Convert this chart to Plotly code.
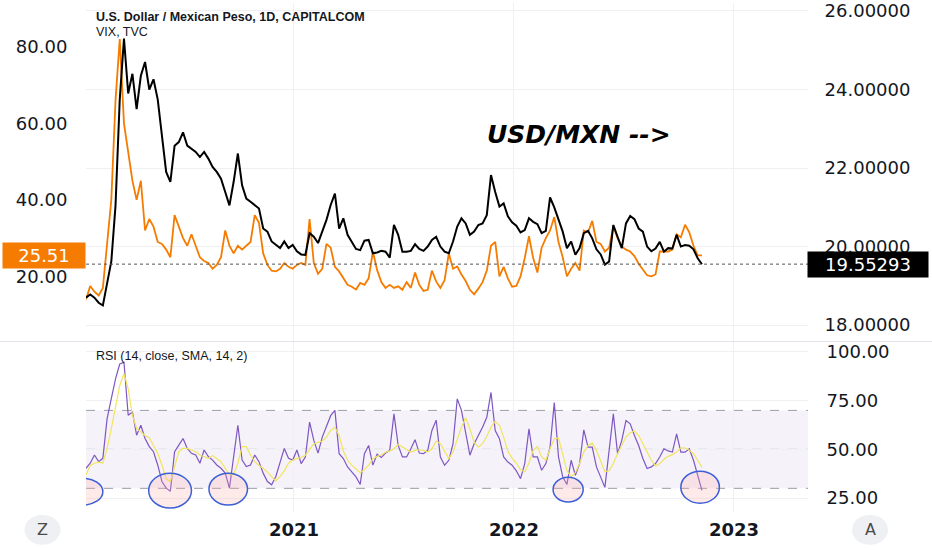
import pandas as pd
import plotly.graph_objects as go

# ---------------- data (weekly readings from the chart) ----------------
dates = pd.date_range("2020-01-22", periods=147, freq="7D")

usd_mxn = [
    18.70, 18.78, 18.70, 18.57, 18.50, 19.03, 19.62, 21.05, 23.75, 25.30,
    23.90, 24.40, 23.50, 24.35, 24.70, 24.00, 24.26, 23.75, 22.74, 21.90,
    21.65, 22.57, 22.66, 22.91, 22.57, 22.49, 22.41, 22.28, 22.41, 22.24,
    22.03, 21.90, 21.73, 21.39, 21.05, 21.65, 22.37, 21.56, 21.22, 21.14,
    21.05, 20.97, 20.46, 20.38, 20.13, 20.04, 19.96, 20.13, 19.96, 20.04,
    19.88, 19.80, 19.79, 20.34, 20.25, 20.09, 20.38, 20.68, 21.06, 21.35,
    20.46, 20.72, 20.30, 20.13, 19.94, 19.91, 20.15, 20.17, 19.83, 19.85,
    19.89, 19.87, 19.72, 20.55, 20.30, 19.87, 19.87, 19.89, 20.06, 19.94,
    19.89, 20.00, 20.17, 20.25, 20.00, 19.87, 19.83, 20.13, 20.51, 20.72,
    20.59, 20.30, 20.38, 20.55, 20.59, 20.80, 21.82, 21.39, 21.02, 21.10,
    20.77, 20.62, 20.53, 20.36, 20.42, 20.72, 20.63, 20.57, 20.34, 20.40,
    21.25, 21.00, 20.70, 20.38, 19.96, 20.13, 19.79, 19.96, 20.34, 20.40,
    20.21, 19.93, 19.80, 19.54, 19.62, 20.55, 20.25, 19.96, 20.59, 20.78,
    20.70, 20.46, 20.38, 20.00, 19.88, 19.95, 20.12, 19.87, 19.96, 19.95,
    20.30, 20.00, 20.04, 20.02, 19.93, 19.70, 19.55,
]

vix = [
    14.0, 17.5, 16.0, 15.0, 17.0, 29.0, 40.0, 66.0, 82.0, 60.0,
    52.0, 45.0, 40.0, 45.0, 32.0, 35.0, 33.0, 29.0, 28.5, 27.0,
    25.0, 36.0, 33.0, 30.0, 28.0, 31.0, 28.0, 25.0, 24.0, 23.5,
    22.0, 23.0, 25.0, 32.0, 28.0, 26.0, 28.0, 27.0, 28.0, 29.0,
    36.0, 34.0, 26.0, 23.0, 21.5, 21.3, 22.0, 23.5, 22.5, 22.0,
    23.0, 23.5, 23.0, 35.0, 23.5, 20.7, 22.0, 28.5, 27.5, 22.5,
    21.3, 19.5, 17.8, 17.3, 16.6, 18.3, 17.8, 19.5, 26.5, 21.7,
    18.5, 17.0, 17.8, 17.0, 17.4, 16.5, 18.5, 17.0, 21.0, 17.8,
    16.2, 16.5, 21.5, 18.7, 17.0, 19.0, 26.0, 22.0, 22.6, 20.5,
    18.8, 16.5, 15.3, 16.8, 18.5, 21.5, 28.0, 29.0, 20.0, 22.5,
    19.5, 17.3, 17.5, 20.0, 24.8, 30.5, 24.8, 21.0, 27.5, 30.0,
    32.0, 35.5, 29.0, 25.0, 20.0, 22.0, 23.5, 21.5, 32.0, 31.5,
    34.5, 29.0, 28.5, 26.5, 27.5, 33.0, 30.0, 27.8, 27.0, 26.5,
    25.3, 23.3, 21.8, 20.3, 20.0, 20.5, 26.5, 26.5, 26.5, 27.0,
    31.0, 30.2, 33.5, 31.5, 28.0, 25.5, 25.51,
]

rsi = [
    40.3, 42.9, 47.1, 43.7, 45.4, 65.8, 76.0, 86.2, 93.8, 94.7,
    67.5, 69.2, 57.3, 62.4, 55.6, 51.4, 48.8, 42.0, 33.5, 30.1,
    28.5, 48.8, 52.2, 55.6, 50.5, 48.0, 47.1, 42.9, 49.7, 46.3,
    44.5, 42.0, 40.3, 37.8, 30.1, 45.4, 62.4, 44.5, 41.2, 42.0,
    47.1, 43.7, 37.8, 33.5, 31.8, 36.1, 43.7, 50.5, 45.4, 44.5,
    49.7, 42.7, 46.1, 64.0, 54.6, 48.1, 56.3, 61.4, 67.3, 70.0,
    47.8, 45.3, 41.0, 38.5, 35.9, 32.0, 47.8, 52.0, 41.9, 47.5,
    45.8, 48.1, 49.5, 68.2, 52.0, 46.1, 46.1, 50.3, 55.0, 48.1,
    47.8, 49.5, 59.7, 65.0, 46.1, 41.9, 44.4, 52.9, 75.9, 70.0,
    58.0, 47.0, 52.9, 57.0, 61.4, 66.5, 79.2, 59.7, 55.5, 46.1,
    43.5, 41.9, 39.0, 35.0, 42.7, 60.5, 46.1, 46.1, 39.3, 42.7,
    51.2, 74.0, 46.1, 35.9, 32.0, 44.4, 36.7, 42.7, 60.0, 51.2,
    51.2, 41.0, 35.9, 30.5, 49.5, 68.2, 47.8, 54.6, 64.8, 63.1,
    57.1, 52.0, 45.3, 40.2, 41.0, 42.7, 46.1, 50.3, 49.2, 48.6,
    58.0, 48.6, 48.6, 50.3, 44.4, 36.5, 29.0,
]

rsi_sma = [
    36.9, 41.7, 42.9, 43.4, 42.9, 50.5, 60.7, 70.9, 82.8, 88.8,
    81.1, 67.5, 60.7, 59.0, 57.0, 56.0, 52.2, 48.0, 42.0, 34.9,
    33.5, 41.2, 48.8, 50.5, 50.5, 49.7, 48.8, 47.1, 46.3, 45.4,
    46.8, 45.4, 43.7, 40.3, 36.9, 37.2, 42.9, 51.4, 51.4, 47.1,
    43.7, 41.7, 40.3, 38.3, 36.1, 33.8, 36.1, 39.0, 42.9, 44.5,
    45.4, 45.8, 47.0, 50.0, 52.9, 53.6, 54.3, 56.3, 59.7, 61.4,
    57.1, 49.2, 44.4, 41.9, 39.7, 38.0, 39.7, 41.9, 45.1, 46.4,
    47.1, 48.5, 49.2, 50.3, 52.5, 51.2, 49.8, 48.6, 49.5, 49.8,
    49.5, 48.6, 50.3, 54.3, 52.9, 49.2, 45.3, 48.6, 54.6, 61.4,
    66.2, 60.5, 53.7, 51.2, 52.9, 56.6, 61.4, 64.4, 62.3, 56.3,
    49.0, 45.5, 43.0, 39.5, 38.5, 43.0, 49.5, 51.5, 46.1, 44.4,
    50.3, 55.4, 55.9, 47.5, 39.0, 35.9, 38.0, 42.7, 48.6, 52.0,
    53.2, 49.5, 43.5, 38.5, 39.0, 42.7, 47.8, 52.4, 56.3, 58.5,
    59.4, 57.1, 52.9, 48.6, 44.4, 41.5, 42.7, 44.9, 46.4, 47.3,
    48.6, 50.8, 50.7, 49.5, 47.8, 44.4, 40.7,
]

usd_last = 19.55293
vix_last = 25.51

year_ticks = ["2021-01-01", "2022-01-01", "2023-01-01"]
year_labels = ["2021", "2022", "2023"]
vix_ticks = [20, 40, 60, 80]
usd_ticks = [18, 20, 22, 24, 26]
rsi_ticks = [25, 50, 75, 100]
rsi_levels = [30, 50, 70]

# oversold areas circled on the RSI pane: (start, end, low, high)
highlight_windows = [
    ("2019-12-12", "2020-02-19", 21.4, 35.2),
    ("2020-05-05", "2020-07-15", 19.9, 37.8),
    ("2020-08-13", "2020-10-16", 21.4, 37.8),
    ("2022-03-07", "2022-04-26", 23.0, 35.7),
    ("2022-10-05", "2022-12-08", 22.4, 38.8),
]

# ---------------- figure ----------------
TXT = "#131722"
GRID = "#eef0f4"
AXFONT = dict(family="DejaVu Sans", size=18, color=TXT)
LBLFONT = "Liberation Sans"
PW, PH = 722, 512          # plot area in pixels


def px_x(p):
    return (p - 86) / PW


def px_y(p):
    return (PH - p) / PH


fig = go.Figure()
fig.add_trace(go.Scatter(x=dates, y=vix, xaxis="x", yaxis="y", mode="lines",
                         line=dict(color="#f57c00", width=1.8), name="VIX"))
fig.add_trace(go.Scatter(x=dates, y=usd_mxn, xaxis="x", yaxis="y2", mode="lines",
                         line=dict(color="#000000", width=2), name="USD/MXN"))
fig.add_trace(go.Scatter(x=dates, y=rsi, xaxis="x2", yaxis="y3", mode="lines",
                         line=dict(color="#7e57c2", width=1.2), name="RSI"))
fig.add_trace(go.Scatter(x=dates, y=rsi_sma, xaxis="x2", yaxis="y3", mode="lines",
                         line=dict(color="#f2e45c", width=1.2), name="RSI SMA"))

x_range = ["2020-01-22", "2023-05-04"]
main_dom = [px_y(340), 1]
rsi_dom = [0, px_y(341)]

fig.update_layout(
    width=932, height=550, autosize=False,
    margin=dict(l=86, r=124, t=0, b=38),
    paper_bgcolor="white", plot_bgcolor="white",
    showlegend=False, hovermode=False,
    xaxis=dict(domain=[0, 1], anchor="y", type="date", range=x_range,
               tickvals=year_ticks, showticklabels=False, showgrid=True,
               gridcolor=GRID, zeroline=False, showline=False, ticks=""),
    xaxis2=dict(domain=[0, 1], anchor="y3", type="date", range=x_range,
                tickvals=year_ticks, showticklabels=False, showgrid=True,
                gridcolor=GRID, zeroline=False, showline=False, ticks=""),
    yaxis=dict(domain=main_dom, anchor="x", side="left", range=[3.12, 91.43],
               tickvals=vix_ticks, ticktext=[f"{v:.2f}" for v in vix_ticks],
               showgrid=False, zeroline=False, showline=False, ticklabeloverflow="allow",
               ticks="outside", ticklen=14, tickcolor="rgba(0,0,0,0)", tickfont=AXFONT),
    yaxis2=dict(overlaying="y", anchor="x", side="right", range=[17.595, 26.203],
                tickvals=usd_ticks, ticktext=[f"{v:.5f}" for v in usd_ticks],
                showgrid=True, gridcolor=GRID, zeroline=False, showline=False,
                ticklabeloverflow="allow",
                ticks="outside", ticklen=12, tickcolor="rgba(0,0,0,0)", tickfont=AXFONT),
    yaxis3=dict(domain=rsi_dom, anchor="x2", side="right", range=[17.86, 105.1],
                tickvals=rsi_ticks, ticktext=[f"{v:.2f}" for v in rsi_ticks],
                showgrid=True, gridcolor=GRID, zeroline=False, showline=False,
                ticklabeloverflow="allow",
                ticks="outside", ticklen=14, tickcolor="rgba(0,0,0,0)", tickfont=AXFONT),
)

shapes = []
# RSI 30-70 band
shapes.append(dict(type="rect", xref="paper", yref="y3", x0=0, x1=1,
                   y0=rsi_levels[0], y1=rsi_levels[-1],
                   fillcolor="rgba(126,87,194,0.08)", line=dict(width=0), layer="below"))
for lv in rsi_levels:
    shapes.append(dict(type="line", xref="paper", yref="y3", x0=0, x1=1, y0=lv, y1=lv,
                       line=dict(color="#9a9da6", width=1, dash="dash"), layer="below"))
# circled oversold spots
for start, end, lo, hi in highlight_windows:
    shapes.append(dict(type="circle", xref="x2", yref="y3", x0=start, x1=end, y0=lo, y1=hi,
                       fillcolor="rgba(255,170,170,0.25)",
                       line=dict(color="#3d5fd6", width=1.5), layer="above"))
# last price dotted line
shapes.append(dict(type="line", xref="paper", yref="y2", x0=0, x1=1,
                   y0=usd_last, y1=usd_last,
                   line=dict(color="#555555", width=1, dash="dot")))
# pane separator
shapes.append(dict(type="line", xref="paper", yref="paper", x0=px_x(0), x1=px_x(932),
                   y0=px_y(340.5), y1=px_y(340.5), line=dict(color="#e0e3eb", width=1)))
# Z / A buttons
btn_y = px_y(530)
btn_r_x, btn_r_y = 18 / PW, 15 / PH
for bx in [px_x(42.5), px_x(870)]:
    shapes.append(dict(type="circle", xref="paper", yref="paper",
                       x0=bx - btn_r_x, x1=bx + btn_r_x,
                       y0=btn_y - btn_r_y, y1=btn_y + btn_r_y,
                       fillcolor="#eff0f3", line=dict(width=0)))
fig.update_layout(shapes=shapes)

ann = []
ann.append(dict(xref="paper", yref="paper", x=px_x(94), y=px_y(14),
                xanchor="left", yanchor="middle", showarrow=False,
                text="<b>U.S. Dollar / Mexican Peso, 1D, CAPITALCOM</b>",
                font=dict(family=LBLFONT, size=12.5, color=TXT)))
ann.append(dict(xref="paper", yref="paper", x=px_x(94), y=px_y(29),
                xanchor="left", yanchor="middle", showarrow=False,
                text="VIX, TVC", font=dict(family=LBLFONT, size=12.5, color=TXT)))
ann.append(dict(xref="paper", yref="paper", x=px_x(94), y=px_y(355),
                xanchor="left", yanchor="middle", showarrow=False,
                text="RSI (14, close, SMA, 14, 2)",
                font=dict(family=LBLFONT, size=12.5, color=TXT)))
ann.append(dict(xref="paper", yref="paper", x=px_x(579), y=px_y(132.5),
                xanchor="center", yanchor="middle", showarrow=False,
                text="<b><i>USD/MXN --></i></b>",
                font=dict(family="DejaVu Sans", size=25, color="#000000")))
# year labels on the time axis
for tv, tl in zip(year_ticks, year_labels):
    ann.append(dict(xref="x2", yref="paper", x=tv, y=px_y(529.5),
                    xanchor="center", yanchor="middle", showarrow=False,
                    text=f"<b>{tl}</b>",
                    font=dict(family="DejaVu Sans", size=18, color=TXT)))
# value tags
ann.append(dict(xref="paper", yref="y", x=px_x(44), y=vix_last,
                xanchor="center", yanchor="middle", showarrow=False,
                text=f"{vix_last:.2f}", bgcolor="#f57c00", width=78, height=21, borderpad=2,
                font=dict(family="DejaVu Sans", size=18, color="white")))
ann.append(dict(xref="paper", yref="y2", x=px_x(868), y=usd_last,
                xanchor="center", yanchor="middle", showarrow=False,
                text=f"{usd_last:.5f}", bgcolor="#000000", width=116, height=21, borderpad=2,
                font=dict(family="DejaVu Sans", size=18, color="white")))
# buttons text
for bx, t in [(px_x(42.5), "Z"), (px_x(870), "A")]:
    ann.append(dict(xref="paper", yref="paper", x=bx, y=btn_y, xanchor="center",
                    yanchor="middle", showarrow=False, text=t,
                    font=dict(family="DejaVu Sans", size=16, color="#4a4a4a")))
fig.update_layout(annotations=ann)

fig.write_html("out.html",
               config={"displayModeBar": False, "staticPlot": True},
               post_script="document.body.style.margin='0px';"
                           "document.body.style.overflow='hidden';")
